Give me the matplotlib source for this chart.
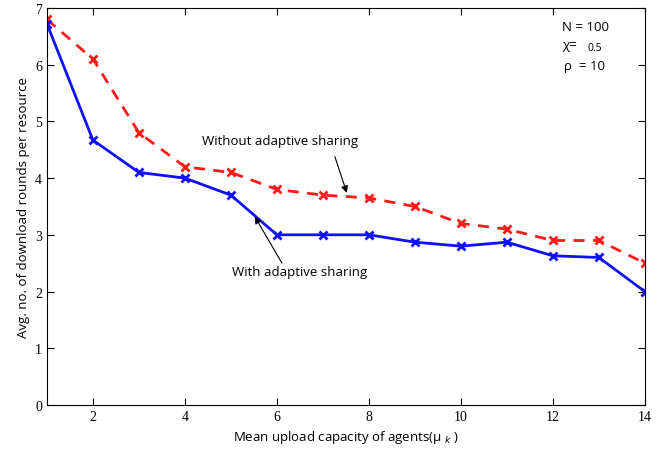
import matplotlib
matplotlib.use("Agg")
import matplotlib.pyplot as plt

# mean upload capacity of agents
capacity = [1, 2, 3, 4, 5, 6, 7, 8, 9, 10, 11, 12, 13, 14]
# avg rounds with / without adaptive sharing
with_sharing = [6.72, 4.67, 4.1, 4.0, 3.7, 3.0, 3.0, 3.0, 2.87, 2.8, 2.87, 2.63, 2.6, 2.0]
without_sharing = [6.8, 6.1, 4.8, 4.2, 4.1, 3.8, 3.7, 3.65, 3.5, 3.2, 3.1, 2.9, 2.9, 2.5]

x_ticks = [2, 4, 6, 8, 10, 12, 14]
y_ticks = [0, 1, 2, 3, 4, 5, 6, 7]

fig = plt.figure(figsize=(6.71, 4.52), dpi=100)
ax = fig.add_axes([0.070, 0.102, 0.891, 0.878])

ax.plot(capacity, without_sharing, color="#ff1a1a", linestyle=(0, (4, 3)), linewidth=2,
        marker="x", markersize=6, markeredgewidth=2)
ax.plot(capacity, with_sharing, color="#1010ff", linestyle="-", linewidth=2,
        marker="x", markersize=6, markeredgewidth=2)

ax.set_xlim(1, 14)
ax.set_ylim(0, 7)
ax.set_xticks(x_ticks)
ax.set_yticks(y_ticks)
ax.tick_params(direction="in", top=True, right=True, length=5, labelsize=10)
for lbl in ax.get_xticklabels() + ax.get_yticklabels():
    lbl.set_fontfamily("Liberation Serif")

ax.set_xlabel("Mean upload capacity of agents(\u03bc $_{k}$ )", fontsize=9.5, family="Open Sans")
ax.set_ylabel("Avg. no. of download rounds per resource", fontsize=9.5, family="Open Sans")

# arrows and labels
arrow = dict(arrowstyle="-|>", color="black", lw=0.8, shrinkA=0, shrinkB=0)
ax.annotate("", xy=(7.52, 3.74), xytext=(7.26, 4.38), arrowprops=arrow)
ax.text(6.07, 4.66, "Without adaptive sharing", fontsize=9.5, family="Open Sans",
        ha="center", va="center")

ax.annotate("", xy=(5.52, 3.32), xytext=(6.11, 2.5), arrowprops=arrow)
ax.text(6.5, 2.36, "With adaptive sharing", fontsize=9.5, family="Open Sans",
        ha="center", va="center")

# parameter box
ax.text(12.2, 6.67, "N = 100", fontsize=9.5, family="Open Sans", va="center")
ax.text(12.2, 6.35, "\u03c7=", fontsize=9.5, family="Open Sans", va="center")
ax.text(12.75, 6.3, "0.5", fontsize=7.5, family="Open Sans", va="center")
ax.text(12.25, 5.98, "\u03c1  = 10", fontsize=9.5, family="Open Sans", va="center")

fig.savefig("out.png", dpi=100)
